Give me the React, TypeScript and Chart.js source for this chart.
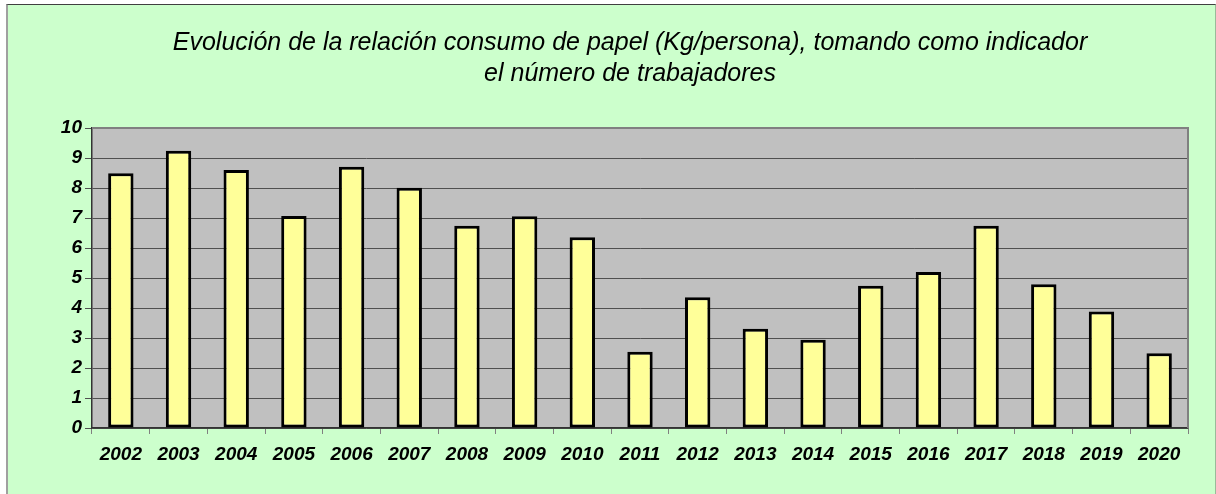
import React, { useEffect, useRef } from "react";
import { Chart, registerables } from "chart.js";

Chart.register(...registerables);

const years = ["2002", "2003", "2004", "2005", "2006", "2007", "2008", "2009", "2010", "2011", "2012", "2013", "2014", "2015", "2016", "2017", "2018", "2019", "2020"];
const consumo = [8.49, 9.24, 8.6, 7.07, 8.71, 8.01, 6.74, 7.06, 6.36, 2.54, 4.36, 3.31, 2.94, 4.74, 5.2, 6.74, 4.79, 3.88, 2.49];
const titleLines = [
  "Evolución de la relación consumo de papel (Kg/persona), tomando como indicador",
  "el número de trabajadores",
];
const yMin = 0;
const yMax = 10;
const yStep = 1;

const FONT = "'Liberation Sans Narrow', 'Arial Narrow', 'Liberation Sans', Arial, sans-serif";

const plotFrame = {
  id: "plotFrame",
  afterLayout(chart: any) {
    // centre the title block the way the original sheet does
    const t = chart.titleBlock;
    if (t) {
      t.left = 72;
      t.right = chart.chartArea.right;
    }
  },
  beforeDraw(chart: any) {
    const { ctx, chartArea } = chart;
    const { left, top, right, bottom } = chartArea;
    ctx.save();
    ctx.fillStyle = "#C0C0C0";
    ctx.fillRect(left, top, right - left, bottom - top);
    ctx.restore();
  },
  beforeDatasetsDraw(chart: any) {
    const { ctx, chartArea } = chart;
    const { left, top, right, bottom } = chartArea;
    ctx.save();
    ctx.strokeStyle = "#808080";
    ctx.lineWidth = 2;
    ctx.beginPath();
    ctx.moveTo(left, top);
    ctx.lineTo(right, top);
    ctx.lineTo(right, bottom);
    ctx.stroke();
    ctx.restore();
  },
};

export default function App() {
  const ref = useRef<HTMLCanvasElement | null>(null);

  useEffect(() => {
    if (!ref.current) return;
    const chart = new Chart(ref.current, {
      type: "bar",
      data: {
        labels: years,
        datasets: [
          {
            data: consumo,
            backgroundColor: "#FFFF99",
            borderColor: "#000000",
            borderWidth: 3,
            borderSkipped: false,
            categoryPercentage: 1,
            barPercentage: 0.44,
          },
        ],
      },
      options: {
        animation: false,
        responsive: false,
        maintainAspectRatio: false,
        layout: { padding: { left: 40, right: 28, top: 0, bottom: 0 } },
        plugins: {
          legend: { display: false },
          tooltip: { enabled: false },
          title: {
            display: true,
            text: titleLines,
            color: "#000000",
            font: { family: FONT, size: 25, style: "italic", weight: "normal", lineHeight: 1.24 },
            padding: { top: 28, bottom: 38 },
          },
        },
        scales: {
          x: {
            offset: true,
            grid: {
              display: true,
              drawOnChartArea: false,
              drawTicks: true,
              tickLength: 6,
              color: "#808080",
              offset: true,
            },
            border: { display: true, color: "#333333", width: 1.5 },
            ticks: {
              color: "#000000",
              padding: 9,
              maxRotation: 0,
              autoSkip: false,
              font: { family: FONT, size: 19, style: "italic", weight: "bold" },
            },
            afterFit(scale: any) {
              scale.height = 66;
            },
          },
          y: {
            min: yMin,
            max: yMax,
            grid: {
              color: "#505050",
              lineWidth: 1,
              drawTicks: true,
              tickLength: 7,
            },
            border: { display: true, color: "#333333", width: 1.5 },
            ticks: {
              stepSize: yStep,
              color: "#000000",
              padding: 3,
              font: { family: FONT, size: 19, style: "italic", weight: "bold" },
            },
            afterFit(scale: any) {
              scale.width = 52;
            },
          },
        },
      },
      plugins: [plotFrame],
    });
    return () => chart.destroy();
  }, []);

  return (
    <div style={{ position: "absolute", left: 0, top: 0, width: 1216, height: 494, background: "#FFFFFF", overflow: "hidden" }}>
      <div
        style={{
          position: "absolute",
          left: 6,
          top: 4,
          width: 1207,
          height: 500,
          background: "#CCFFCC",
          borderTop: "1px solid #404040",
          borderLeft: "2px solid #A0A0A0",
          borderRight: "1px solid #99BB99",
        }}
      />
      <canvas ref={ref} width={1216} height={494} style={{ position: "absolute", left: 0, top: 0, width: 1216, height: 494 }} />
    </div>
  );
}
